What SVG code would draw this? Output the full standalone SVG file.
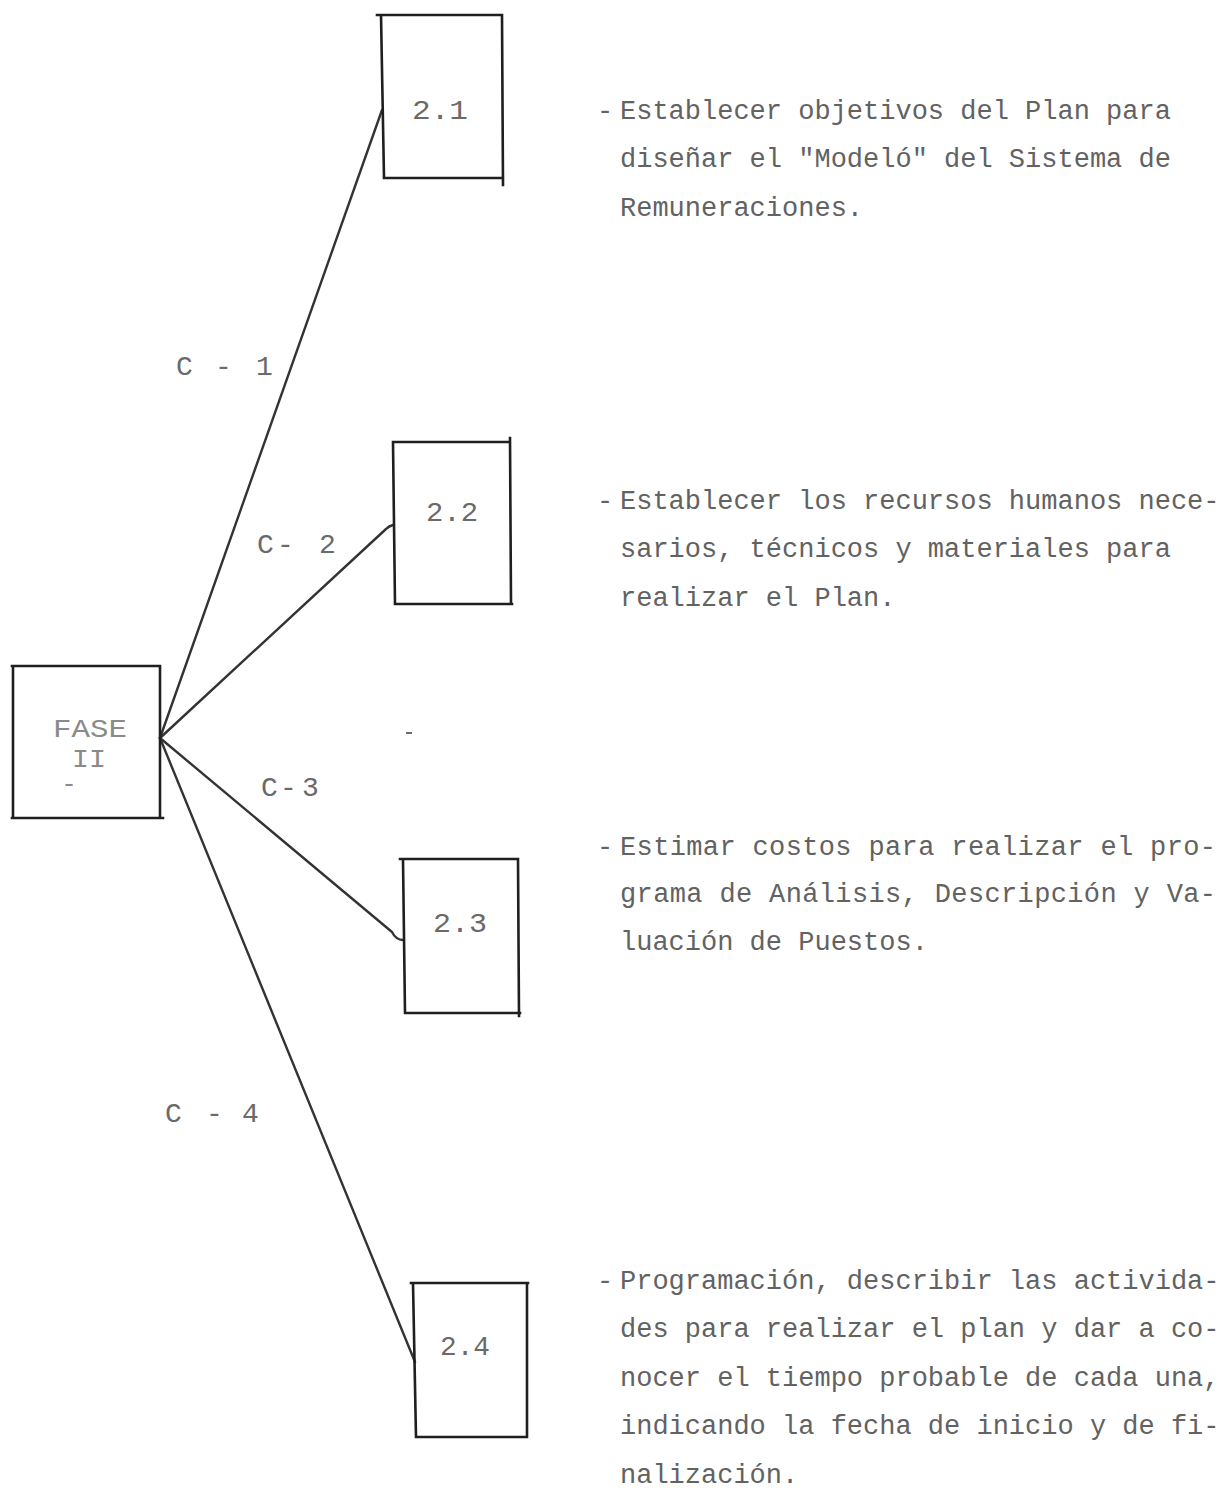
<svg xmlns="http://www.w3.org/2000/svg" width="1228" height="1494" viewBox="0 0 1228 1494">
  <style>
    .box { fill: none; stroke: #1f1f1f; stroke-width: 2.6; stroke-linecap: square; }
    .conn { fill: none; stroke: #333; stroke-width: 2.4; stroke-linecap: round; stroke-linejoin: round; }
    .tw { font-family: "Liberation Mono", "Courier New", monospace; font-size: 27px; fill: #626262; }
    .num { font-family: "Liberation Mono", "Courier New", monospace; font-size: 28px; fill: #6a6a6a; }
    .lbl { font-family: "Liberation Mono", "Courier New", monospace; font-size: 28px; fill: #6a6a6a; }
    .fase { font-family: "Liberation Mono", "Courier New", monospace; font-size: 26px; fill: #8a8a8a; }
  </style>

  <rect x="0" y="0" width="1228" height="1494" fill="#ffffff"/>

  <!-- connectors from the FASE II hub to each task box -->
  <g id="connectors">
    <path class="conn" d="M160,738 L382,110"/>
    <path class="conn" d="M160,738 L386,529 Q389,526 393,525"/>
    <path class="conn" d="M160,738 L392,932 Q396,940 403,940"/>
    <path class="conn" d="M160,738 L415,1362"/>
    <path d="M406,733 L412,733" stroke="#444" stroke-width="1.6"/>
  </g>

  <!-- connector labels -->
  <g id="labels">
    <text class="lbl" x="176 196 215 236 256" y="375">C - 1</text>
    <text class="lbl" x="257 277 297 319" y="553">C- 2</text>
    <text class="lbl" x="261 280 292 302" y="796">C- 3</text>
    <text class="lbl" x="165 185 206 225 242" y="1122">C - 4</text>
  </g>

  <!-- root node -->
  <g id="fase-ii">
    <path class="box" d="M12,666 L160,666 M13,666 L13,818 M160,666 L160,818 M12,818 L163,818"/>
    <text class="fase" x="90" y="737" text-anchor="middle" textLength="74" lengthAdjust="spacingAndGlyphs">FASE</text>
    <text class="fase" x="89" y="767" text-anchor="middle" textLength="34" lengthAdjust="spacingAndGlyphs">II</text>
    <text class="fase" x="69" y="792" text-anchor="middle">-</text>
  </g>

  <!-- task 2.1 -->
  <g id="node-2-1">
    <path class="box" d="M377,15 L502,15 M381,15 L384,178 M502,15 L503,185 M385,178 L503,178"/>
    <text class="num" x="440" y="119" text-anchor="middle" textLength="56" lengthAdjust="spacingAndGlyphs">2.1</text>
  </g>

  <!-- task 2.2 -->
  <g id="node-2-2">
    <path class="box" d="M393,442 L510,442 M393,442 L395,604 M510,438 L511,604 M395,604 L512,604"/>
    <text class="num" x="452" y="521" text-anchor="middle" textLength="52" lengthAdjust="spacingAndGlyphs">2.2</text>
  </g>

  <!-- task 2.3 -->
  <g id="node-2-3">
    <path class="box" d="M400,859 L518,859 M403,860 L405,1013 M518,860 L519,1016 M405,1013 L520,1013"/>
    <text class="num" x="460" y="932" text-anchor="middle" textLength="54" lengthAdjust="spacingAndGlyphs">2.3</text>
  </g>

  <!-- task 2.4 -->
  <g id="node-2-4">
    <path class="box" d="M411,1283 L528,1283 M413,1283 L416,1437 M527,1285 L527,1436 M416,1437 L527,1437"/>
    <text class="num" x="465" y="1355" text-anchor="middle" textLength="50" lengthAdjust="spacingAndGlyphs">2.4</text>
  </g>

  <!-- descriptions -->
  <g id="desc-2-1">
    <text class="tw" x="597" y="119">-</text>
    <text class="tw" x="620" y="119">Establecer objetivos del Plan para</text>
    <text class="tw" x="620" y="167">diseñar el "Modeló" del Sistema de</text>
    <text class="tw" x="620" y="216">Remuneraciones.</text>
  </g>

  <g id="desc-2-2">
    <text class="tw" x="597" y="509">-</text>
    <text class="tw" x="620" y="509">Establecer los recursos humanos nece-</text>
    <text class="tw" x="620" y="557">sarios, técnicos y materiales para</text>
    <text class="tw" x="620" y="606">realizar el Plan.</text>
  </g>

  <g id="desc-2-3">
    <text class="tw" x="597" y="855">-</text>
    <text class="tw" x="620" y="855" textLength="596" lengthAdjust="spacing">Estimar costos para realizar el pro-</text>
    <text class="tw" x="620" y="902" textLength="596" lengthAdjust="spacing">grama de Análisis, Descripción y Va-</text>
    <text class="tw" x="620" y="950">luación de Puestos.</text>
  </g>

  <g id="desc-2-4">
    <text class="tw" x="597" y="1289">-</text>
    <text class="tw" x="620" y="1289">Programación, describir las activida-</text>
    <text class="tw" x="620" y="1337">des para realizar el plan y dar a co-</text>
    <text class="tw" x="620" y="1386">nocer el tiempo probable de cada una,</text>
    <text class="tw" x="620" y="1434">indicando la fecha de inicio y de fi-</text>
    <text class="tw" x="620" y="1483">nalización.</text>
  </g>
</svg>
